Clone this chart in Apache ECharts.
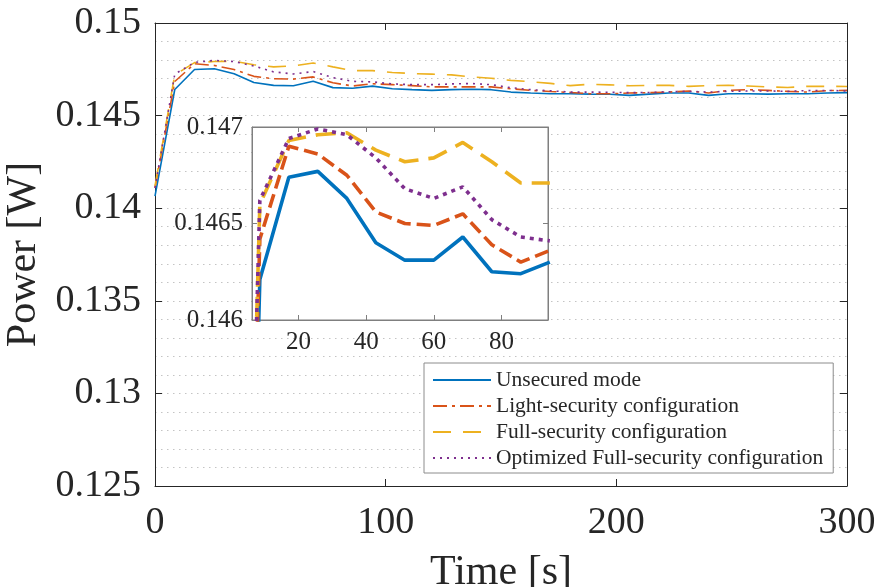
<!DOCTYPE html>
<html>
<head>
<meta charset="utf-8">
<script src="https://cdn.jsdelivr.net/npm/echarts@6/dist/echarts.min.js"></script>
<style>html,body{margin:0;padding:0;background:#fff}#c{width:880px;height:587px}</style>
</head>
<body>
<div id="c"></div>
<script>
// ---- data ----
var seriesNames = ['Unsecured mode', 'Light-security configuration', 'Full-security configuration', 'Optimized Full-security configuration'];
var times = [0, 8.57, 17.14, 25.71, 34.29, 42.86, 51.43, 60, 68.57, 77.14, 85.71, 94.29, 102.86, 111.43, 120, 128.57, 137.14, 145.71, 154.29, 162.86, 171.43, 180, 188.57, 197.14, 205.71, 214.29, 222.86, 231.43, 240, 248.57, 257.14, 265.71, 274.29, 282.86, 291.43, 300];
var unsecured = [0.14065, 0.14641, 0.14749, 0.14753, 0.14726, 0.14679, 0.14663, 0.14661, 0.14685, 0.14651, 0.14648, 0.14659, 0.14645, 0.14640, 0.14636, 0.14640, 0.14642, 0.14640, 0.14627, 0.14622, 0.14618, 0.14618, 0.14616, 0.14615, 0.14609, 0.14616, 0.14622, 0.14622, 0.14609, 0.14618, 0.14618, 0.14616, 0.14618, 0.14618, 0.14622, 0.14624];
var lightSec = [0.1411, 0.14684, 0.14780, 0.14771, 0.14749, 0.14712, 0.14699, 0.14697, 0.14709, 0.14677, 0.14660, 0.14672, 0.14667, 0.14662, 0.14655, 0.14655, 0.14655, 0.14655, 0.14645, 0.14636, 0.14630, 0.14625, 0.14618, 0.14618, 0.14622, 0.14624, 0.14627, 0.14633, 0.14622, 0.14636, 0.14640, 0.14636, 0.14631, 0.14627, 0.14635, 0.14636];
var fullSec = [0.1412, 0.14720, 0.14786, 0.14792, 0.14793, 0.14775, 0.14763, 0.14768, 0.14784, 0.14763, 0.14743, 0.14743, 0.14733, 0.14727, 0.14724, 0.14720, 0.14709, 0.14702, 0.14690, 0.14683, 0.14674, 0.14662, 0.14669, 0.14666, 0.14661, 0.14663, 0.14663, 0.14658, 0.14662, 0.14664, 0.14660, 0.14655, 0.14652, 0.14658, 0.14658, 0.14657];
var optFullSec = [0.1411, 0.14724, 0.14787, 0.14798, 0.14792, 0.14768, 0.14736, 0.14725, 0.14738, 0.14705, 0.14685, 0.14682, 0.14671, 0.14667, 0.14667, 0.14671, 0.14673, 0.14667, 0.14651, 0.14640, 0.14634, 0.14627, 0.14627, 0.14626, 0.14624, 0.14625, 0.14629, 0.14631, 0.14627, 0.14631, 0.14633, 0.14633, 0.14631, 0.14635, 0.14636, 0.14633];
// inset values (first 12 samples)
var insetUnsecured = [0.14065, 0.14621, 0.14674, 0.14677, 0.14663, 0.14640, 0.14631, 0.14631, 0.14643, 0.14625, 0.14624, 0.14630];
var insetLight = [0.1411, 0.14642, 0.14690, 0.14686, 0.14675, 0.14656, 0.14650, 0.14649, 0.14655, 0.14639, 0.14630, 0.14636];
var insetFull = [0.1412, 0.14660, 0.14693, 0.14696, 0.14697, 0.14688, 0.14682, 0.14684, 0.14692, 0.14682, 0.14671, 0.14671];
var insetOptimized = [0.1411, 0.14662, 0.14694, 0.14699, 0.14696, 0.14684, 0.14668, 0.14663, 0.14669, 0.14652, 0.14643, 0.14641];
var mainXTicks = [0, 100, 200, 300];
var mainYTickLabels = ['0.125', '0.13', '0.135', '0.14', '0.145', '0.15'];
var insetXTicks = [20, 40, 60, 80];
var insetYTicks = [0.146, 0.1465, 0.147];
var insetYTickLabels = ['0.146', '0.1465', '0.147'];

// ---- build ----
function pairs(vals) { return vals.map(function (v, i) { return [times[i], v]; }); }
var colors = ['#0072BD', '#D95319', '#EDB120', '#7E2F8E'];
var mainDash = ['solid', [14, 5, 3, 5], [18, 12], [2, 5]];
var insetDash = ['solid', [14, 6], [20, 10], [4, 5]];
var mainData = [unsecured, lightSec, fullSec, optFullSec];
var insetData = [insetUnsecured, insetLight, insetFull, insetOptimized];
var FONT = 'Liberation Serif';
var AX = '#262626';

var series = [];
mainData.forEach(function (d, i) {
  series.push({
    name: seriesNames[i], type: 'line', xAxisIndex: 0, yAxisIndex: 0,
    data: pairs(d), symbol: 'none', showSymbol: false, z: 3,
    lineStyle: { color: colors[i], width: 1.6, type: mainDash[i], cap: 'butt' },
    itemStyle: { color: colors[i] }
  });
});
insetData.forEach(function (d, i) {
  series.push({
    name: 'inset ' + seriesNames[i], type: 'line', xAxisIndex: 2, yAxisIndex: 2,
    data: pairs(d), symbol: 'none', showSymbol: false, z: 12, clip: true,
    lineStyle: { color: colors[i], width: 3.6, type: insetDash[i], cap: 'butt' },
    itemStyle: { color: colors[i] }
  });
});

var gridDot = { show: true, lineStyle: { color: '#c4c4c4', width: 1, type: [1.5, 4.5] } };

var option = {
  animation: false,
  backgroundColor: '#fff',
  grid: [
    { left: 155, top: 23, right: 33, bottom: 101, containLabel: false, outerBoundsMode: 'none' },
    { left: 252, top: 127, width: 296, height: 193, show: true, backgroundColor: '#fff', borderColor: '#7f7f7f', borderWidth: 1, z: 10, containLabel: false, outerBoundsMode: 'none' }
  ],
  xAxis: [
    { type: 'value', gridIndex: 0, min: 0, max: 300, interval: 100, position: 'bottom',
      axisLine: { show: true, onZero: false, lineStyle: { color: AX, width: 1 } },
      axisTick: { show: true, inside: true, length: 7, lineStyle: { color: AX } },
      axisLabel: { fontFamily: FONT, fontSize: 38, color: AX, margin: 18, customValues: mainXTicks },
      splitLine: { show: false },
      name: 'Time [s]', nameLocation: 'middle', nameGap: 66,
      nameTextStyle: { fontFamily: FONT, fontSize: 42, color: AX } },
    { type: 'value', gridIndex: 0, min: 0, max: 300, interval: 100, position: 'top',
      axisLine: { show: true, onZero: false, lineStyle: { color: AX, width: 1 } },
      axisTick: { show: true, inside: true, length: 7, lineStyle: { color: AX } },
      axisLabel: { show: false }, splitLine: { show: false } },
    { type: 'value', gridIndex: 1, min: 6.25, max: 93.75, position: 'bottom', z: 11,
      axisLine: { show: true, onZero: false, lineStyle: { color: '#7f7f7f', width: 1 } },
      axisTick: { show: true, inside: true, length: 5, lineStyle: { color: '#7f7f7f' }, customValues: insetXTicks },
      axisLabel: { fontFamily: FONT, fontSize: 25, color: AX, margin: 10, customValues: insetXTicks },
      splitLine: { show: false } },
    { type: 'value', gridIndex: 1, min: 6.25, max: 93.75, position: 'top', z: 11,
      axisLine: { show: true, onZero: false, lineStyle: { color: '#7f7f7f', width: 1 } },
      axisTick: { show: true, inside: true, length: 5, lineStyle: { color: '#7f7f7f' }, customValues: insetXTicks },
      axisLabel: { show: false }, splitLine: { show: false } }
  ],
  yAxis: [
    { type: 'value', gridIndex: 0, min: 0.125, max: 0.15, interval: 0.005, position: 'left',
      axisLine: { show: true, onZero: false, lineStyle: { color: AX, width: 1 } },
      axisTick: { show: true, inside: true, length: 7, lineStyle: { color: AX } },
      axisLabel: { fontFamily: FONT, fontSize: 38, color: AX, margin: 14,
        formatter: function (v) { var i = Math.round((v - 0.125) / 0.005); return mainYTickLabels[i] || ''; } },
      splitLine: gridDot,
      minorTick: { show: false, splitNumber: 5 },
      minorSplitLine: gridDot,
      name: 'Power [W]', nameLocation: 'middle', nameGap: 104,
      nameTextStyle: { fontFamily: FONT, fontSize: 42, color: AX } },
    { type: 'value', gridIndex: 0, min: 0.125, max: 0.15, interval: 0.005, position: 'right',
      axisLine: { show: true, onZero: false, lineStyle: { color: AX, width: 1 } },
      axisTick: { show: true, inside: true, length: 7, lineStyle: { color: AX } },
      axisLabel: { show: false }, splitLine: { show: false } },
    { type: 'value', gridIndex: 1, min: 0.146, max: 0.147, position: 'left', z: 11,
      axisLine: { show: true, onZero: false, lineStyle: { color: '#7f7f7f', width: 1 } },
      axisTick: { show: true, inside: true, length: 5, lineStyle: { color: '#7f7f7f' }, customValues: insetYTicks },
      axisLabel: { fontFamily: FONT, fontSize: 25, color: AX, margin: 9, customValues: insetYTicks,
        formatter: function (v) { var i = insetYTicks.indexOf(v); return insetYTickLabels[i] || ''; } },
      splitLine: { show: false } },
    { type: 'value', gridIndex: 1, min: 0.146, max: 0.147, position: 'right', z: 11,
      axisLine: { show: true, onZero: false, lineStyle: { color: '#7f7f7f', width: 1 } },
      axisTick: { show: true, inside: true, length: 5, lineStyle: { color: '#7f7f7f' }, customValues: insetYTicks },
      axisLabel: { show: false }, splitLine: { show: false } }
  ],
  legend: {
    data: seriesNames, orient: 'vertical', left: 424, top: 363,
    backgroundColor: '#fff', borderColor: '#8c8c8c', borderWidth: 1,
    padding: [6, 10, 4, 8], itemGap: 4, itemWidth: 58, itemHeight: 21, z: 20,
    itemStyle: { opacity: 0 },
    lineStyle: { width: 2 },
    textStyle: { fontFamily: FONT, fontSize: 21.5, color: AX },
    selectedMode: false
  },
  series: series
};
var chart = echarts.init(document.getElementById('c'), null, { renderer: 'canvas' });
chart.setOption(option);
</script>
</body>
</html>
